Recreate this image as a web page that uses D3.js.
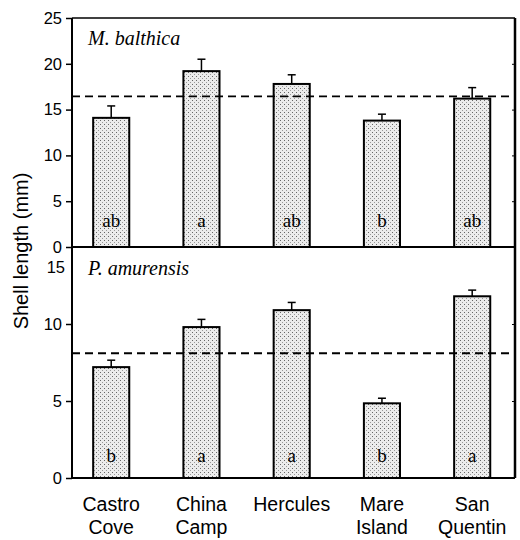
<!DOCTYPE html>
<html>
<head>
<meta charset="utf-8">
<script src="https://cdn.jsdelivr.net/npm/d3@7"></script>
<style>
  html, body { margin: 0; padding: 0; background: #fff; }
  svg { display: block; }
</style>
</head>
<body>
<svg id="chart" width="520" height="540"></svg>
<script>
// ---- data ----
const sites = ["Castro Cove", "China Camp", "Hercules", "Mare Island", "San Quentin"];

const balthicaMean   = [14.1, 19.2, 17.8, 13.8, 16.2];
const balthicaSE     = [1.3, 1.3, 1.0, 0.7, 1.2];
const balthicaGroups = ["ab", "a", "ab", "b", "ab"];
const balthicaOverall = 16.45;
const balthicaTicks  = [0, 5, 10, 15, 20, 25];

const amurensisMean   = [7.2, 9.8, 10.9, 4.85, 11.8];
const amurensisSE     = [0.45, 0.5, 0.5, 0.33, 0.4];
const amurensisGroups = ["b", "a", "a", "b", "a"];
const amurensisOverall = 8.1;
const amurensisTicks  = [0, 5, 10, 15];

const yLabel = "Shell length (mm)";

// ---- layout ----
const svg = d3.select("#chart");
const left = 72, right = 515;
const top1 = 18, mid = 247, bot = 478;

const defs = svg.append("defs");
const pat = defs.append("pattern").attr("id", "stipple")
  .attr("width", 4).attr("height", 4).attr("patternUnits", "userSpaceOnUse");
pat.append("rect").attr("width", 4).attr("height", 4).attr("fill", "#ececec");
pat.append("rect").attr("x", 0).attr("y", 0).attr("width", 1).attr("height", 1).attr("fill", "#666");
pat.append("rect").attr("x", 2).attr("y", 2).attr("width", 1).attr("height", 1).attr("fill", "#999");

const x = d3.scaleBand().domain(sites).range([70.6, 512.8]).paddingInner(0.6).paddingOuter(0.25);

const panels = [
  { name: "M. balthica", mean: balthicaMean, se: balthicaSE, groups: balthicaGroups,
    overall: balthicaOverall, ticks: balthicaTicks,
    y: d3.scaleLinear().domain([0, 25]).range([mid, top1]), labelY: 45, letterY: 227 },
  { name: "P. amurensis", mean: amurensisMean, se: amurensisSE, groups: amurensisGroups,
    overall: amurensisOverall, ticks: amurensisTicks,
    y: d3.scaleLinear().domain([0, 15]).range([bot, mid]), labelY: 275, letterY: 462 }
];

panels.forEach((p, pi) => {
  const g = svg.append("g");
  const data = sites.map((s, i) => ({ site: s, mean: p.mean[i], se: p.se[i], grp: p.groups[i] }));

  // bars
  g.selectAll("rect.bar").data(data).join("rect").attr("class", "bar")
    .attr("x", d => x(d.site)).attr("width", x.bandwidth())
    .attr("y", d => p.y(d.mean)).attr("height", d => p.y(0) - p.y(d.mean))
    .attr("fill", "url(#stipple)").attr("stroke", "#000").attr("stroke-width", 2);

  // error bars
  g.selectAll("line.err").data(data).join("line").attr("class", "err")
    .attr("x1", d => x(d.site) + x.bandwidth() / 2).attr("x2", d => x(d.site) + x.bandwidth() / 2)
    .attr("y1", d => p.y(d.mean)).attr("y2", d => p.y(d.mean + d.se))
    .attr("stroke", "#000").attr("stroke-width", 1.5);
  g.selectAll("line.cap").data(data).join("line").attr("class", "cap")
    .attr("x1", d => x(d.site) + x.bandwidth() / 2 - 4).attr("x2", d => x(d.site) + x.bandwidth() / 2 + 4)
    .attr("y1", d => p.y(d.mean + d.se)).attr("y2", d => p.y(d.mean + d.se))
    .attr("stroke", "#000").attr("stroke-width", 1.5);

  // group letters
  g.selectAll("text.grp").data(data).join("text").attr("class", "grp")
    .attr("x", d => x(d.site) + x.bandwidth() / 2).attr("y", p.letterY)
    .attr("text-anchor", "middle")
    .attr("font-family", "'Liberation Serif', 'Times New Roman', serif")
    .attr("font-size", 19).text(d => d.grp);

  // overall mean dashed line
  g.append("line")
    .attr("x1", left).attr("x2", right)
    .attr("y1", p.y(p.overall)).attr("y2", p.y(p.overall))
    .attr("stroke", "#000").attr("stroke-width", 1.8).attr("stroke-dasharray", "8,5");

  // left axis
  const ax = g.append("g").attr("transform", `translate(${left},0)`)
    .call(d3.axisLeft(p.y).tickValues(p.ticks).tickSize(6).tickPadding(4).tickFormat(d3.format("d")));
  ax.select(".domain").remove();
  ax.selectAll(".tick line").attr("stroke-width", 1.5);
  ax.selectAll(".tick text")
    .attr("font-family", "'Liberation Sans', Arial, sans-serif")
    .attr("font-size", 16.5).attr("fill", "#000");
  if (pi === 1) {
    ax.selectAll(".tick").filter(d => d === 15).select("line").remove();
    ax.selectAll(".tick").filter(d => d === 15).select("text").attr("dy", "1.55em").attr("x", -7);
  }

  // right axis (inward ticks)
  const axr = g.append("g").attr("transform", `translate(${right},0)`)
    .call(d3.axisLeft(p.y).tickValues(p.ticks.filter(t => t > 0 && t < d3.max(p.ticks))).tickSize(3).tickFormat(""));
  axr.select(".domain").remove();
  axr.selectAll(".tick line").attr("stroke-width", 1);

  // species label
  g.append("text").attr("x", 88).attr("y", p.labelY)
    .attr("font-family", "'Liberation Serif', 'Times New Roman', serif")
    .attr("font-style", "italic").attr("font-size", 20)
    .text(p.name);
});

// frame lines
const frame = svg.append("g").attr("stroke", "#000");
frame.append("line").attr("x1", left).attr("x2", right).attr("y1", top1).attr("y2", top1).attr("stroke-width", 1.5);
frame.append("line").attr("x1", left).attr("x2", right).attr("y1", mid).attr("y2", mid).attr("stroke-width", 2);
frame.append("line").attr("x1", left).attr("x2", right).attr("y1", bot).attr("y2", bot).attr("stroke-width", 2);
frame.append("line").attr("x1", left).attr("x2", left).attr("y1", top1).attr("y2", bot).attr("stroke-width", 2);
frame.append("line").attr("x1", right).attr("x2", right).attr("y1", top1).attr("y2", bot).attr("stroke-width", 2.5);

// x category labels
const xl = svg.append("g");
sites.forEach(s => {
  const t = xl.append("text")
    .attr("x", x(s) + x.bandwidth() / 2).attr("y", 511)
    .attr("text-anchor", "middle")
    .attr("font-family", "'Liberation Sans', Arial, sans-serif")
    .attr("font-size", 19.5).attr("fill", "#000");
  s.split(" ").forEach((w, i) => {
    t.append("tspan").attr("x", x(s) + x.bandwidth() / 2).attr("dy", i === 0 ? 0 : 23).text(w);
  });
});

// y label
svg.append("text")
  .attr("transform", "translate(28,251) rotate(-90)")
  .attr("text-anchor", "middle")
  .attr("font-family", "'Liberation Sans', Arial, sans-serif")
  .attr("font-size", 20).attr("fill", "#000")
  .text(yLabel);
</script>
</body>
</html>
